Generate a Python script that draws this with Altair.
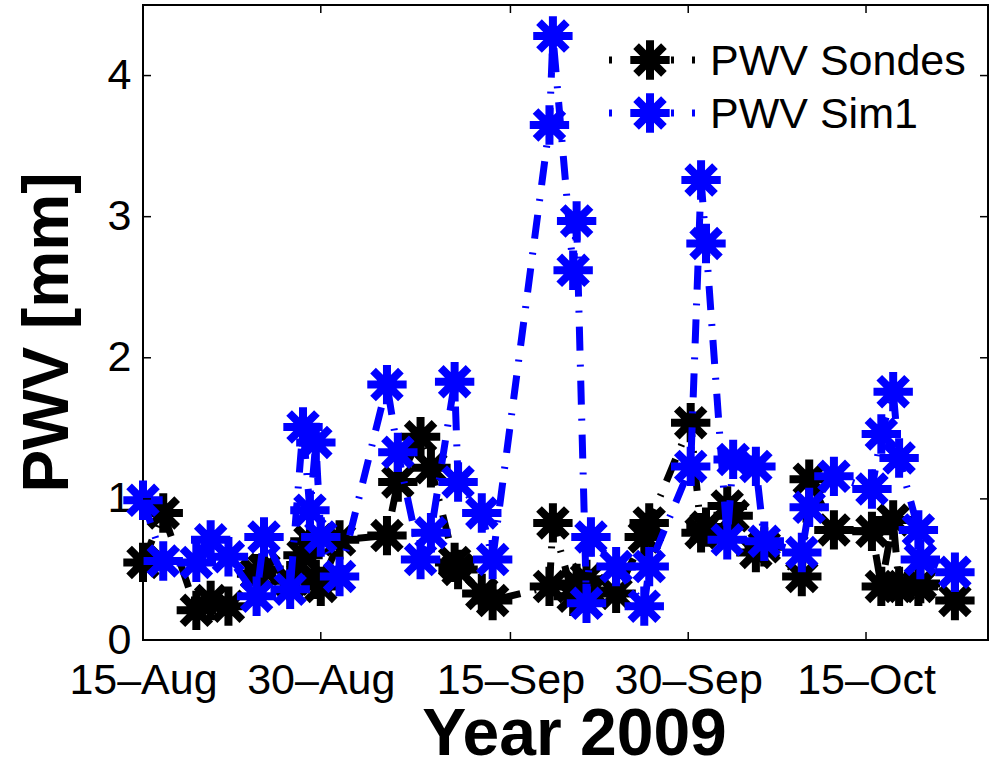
import altair as alt
import pandas as pd

# Radiosonde launch times (UTC) and precipitable water vapour [mm]
launch_times = [
    "2009-08-15 00:00", "2009-08-16 17:00", "2009-08-19 12:00", "2009-08-20 17:00",
    "2009-08-22 05:00", "2009-08-24 14:00", "2009-08-25 05:00", "2009-08-27 10:00",
    "2009-08-28 12:00", "2009-08-29 02:00", "2009-08-29 14:00", "2009-08-30 00:00",
    "2009-08-31 14:00", "2009-09-04 14:00", "2009-09-05 12:00", "2009-09-07 10:00",
    "2009-09-08 07:00", "2009-09-10 07:00", "2009-09-10 14:00", "2009-09-12 14:00",
    "2009-09-13 12:00", "2009-09-18 07:00", "2009-09-18 14:00", "2009-09-20 07:00",
    "2009-09-20 14:00", "2009-09-21 10:00", "2009-09-21 19:00", "2009-09-23 22:00",
    "2009-09-26 07:00", "2009-09-26 17:00", "2009-09-30 05:00", "2009-10-01 02:00",
    "2009-10-01 12:00", "2009-10-03 07:00", "2009-10-03 19:00", "2009-10-05 17:00",
    "2009-10-06 10:00", "2009-10-09 14:00", "2009-10-10 05:00", "2009-10-12 07:00",
    "2009-10-15 12:00", "2009-10-16 07:00", "2009-10-17 07:00", "2009-10-17 19:00",
    "2009-10-19 10:00", "2009-10-19 14:00", "2009-10-22 12:00",
]
pwv_sondes = [
    0.55, 0.90, 0.21, 0.28, 0.24, 0.47, 0.50, 0.42,
    0.60, 0.70, 0.43, 0.38, 0.71, 0.74, 1.12, 1.44,
    1.22, 0.55, 0.50, 0.33, 0.28, 0.38, 0.83, 0.31,
    0.40, 0.43, 0.35, 0.33, 0.73, 0.83, 1.54, 0.76,
    0.80, 0.95, 0.88, 0.62, 0.66, 0.45, 1.14, 0.78,
    0.77, 0.38, 0.85, 0.38, 0.38, 0.40, 0.28,
]
pwv_sim1 = [
    0.99, 0.56, 0.55, 0.71, 0.59, 0.31, 0.73, 0.36,
    1.51, 0.92, 1.40, 0.73, 0.45, 1.81, 1.33, 0.57,
    0.76, 1.83, 1.12, 0.90, 0.57, 3.65, 4.28, 2.62,
    2.97, 0.26, 0.73, 0.52, 0.24, 0.52, 1.23, 3.26,
    2.81, 0.71, 1.28, 1.23, 0.70, 0.62, 0.94, 1.16,
    1.07, 1.46, 1.76, 1.29, 0.78, 0.57, 0.48,
]

series_names = ["PWV Sondes", "PWV Sim1"]
series_colors = ["#000000", "#0000ff"]

x_domain = ["2009-08-15 00:00", "2009-10-25 07:00"]
x_tick_dates = ["2009-08-15", "2009-08-30", "2009-09-15", "2009-09-30", "2009-10-15"]
y_tick_values = [0, 1, 2, 3, 4]


def to_ms(values):
    idx = pd.to_datetime(values, utc=True)
    return [int((t - pd.Timestamp("1970-01-01", tz="UTC")) / pd.Timedelta(milliseconds=1)) for t in idx]


t_ms = to_ms(launch_times)
sondes = pd.DataFrame({"t": t_ms, "pwv": pwv_sondes, "series": series_names[0]})
sim1 = pd.DataFrame({"t": t_ms, "pwv": pwv_sim1, "series": series_names[1]})
xticks = pd.DataFrame({"t": to_ms(x_tick_dates)})
yticks = pd.DataFrame({"v": y_tick_values})

W, H = 845, 635
FONT = "Liberation Sans"
STAR = "M-1,0L1,0M0,-1L0,1M-0.7071,-0.7071L0.7071,0.7071M-0.7071,0.7071L0.7071,-0.7071"
DASHDOT = [24, 14, 2, 14]

color = alt.Color("series:N", scale=alt.Scale(domain=series_names, range=series_colors), legend=None)

x_enc = alt.X(
    "t:T",
    scale=alt.Scale(type="utc", domain=to_ms(x_domain)),
    axis=alt.Axis(
        values=to_ms(x_tick_dates),
        labelExpr="utcFormat(datum.value, '%d–%b')",
        title="Year 2009",
        titleFontSize=66,
        titleX=431,
        titleY=114,
        titleAnchor="middle",
        titleAlign="center",
        titleBaseline="alphabetic",
        labelPadding=19,
        labelFlush=False,
        labelOverlap=False,
    ),
)
y_enc = alt.Y(
    "pwv:Q",
    scale=alt.Scale(domain=[0, 4.5], nice=False, zero=True),
    axis=alt.Axis(
        values=y_tick_values,
        format="d",
        title="PWV [mm]",
        titleFontSize=64,
        titleAngle=270,
        titleX=-76,
        titleY=327,
        titleAlign="center",
        titleBaseline="alphabetic",
        labelPadding=12,
        labelFlush=False,
    ),
)


def series_layers(df):
    base = alt.Chart(df)
    line = base.mark_line(strokeWidth=7, strokeDash=DASHDOT, strokeCap="butt").encode(
        x=x_enc, y=y_enc, color=color
    )
    pts = base.mark_point(
        shape=STAR, filled=False, size=1550, strokeWidth=8, opacity=1, strokeCap="butt"
    ).encode(x=x_enc, y=y_enc, color=color)
    return [line, pts]


# inward tick marks on all four sides of the box
tick_x_bottom = alt.Chart(xticks).mark_rule(color="black", strokeWidth=1.5).encode(
    x=alt.X("t:T"), y=alt.value(H - 8), y2=alt.value(H)
)
tick_x_top = alt.Chart(xticks).mark_rule(color="black", strokeWidth=1.5).encode(
    x=alt.X("t:T"), y=alt.value(0), y2=alt.value(8)
)
tick_y_left = alt.Chart(yticks).mark_rule(color="black", strokeWidth=1.5).encode(
    y=alt.Y("v:Q"), x=alt.value(0), x2=alt.value(8)
)
tick_y_right = alt.Chart(yticks).mark_rule(color="black", strokeWidth=1.5).encode(
    y=alt.Y("v:Q"), x=alt.value(W - 8), x2=alt.value(W)
)

# legend entries (top right, no box)
legend_layers = []
for i, name in enumerate(series_names):
    ly = 55 + 53 * i
    entry = alt.Chart(pd.DataFrame({"series": [name]}))
    legend_layers.append(
        entry.mark_rule(strokeWidth=7, strokeDash=[3, 59, 3, 18, 3, 60], strokeCap="butt").encode(
            x=alt.value(466), x2=alt.value(552), y=alt.value(ly), color=color
        )
    )
    legend_layers.append(
        entry.mark_point(shape=STAR, filled=False, size=1550, strokeWidth=8, opacity=1).encode(
            x=alt.value(507), y=alt.value(ly), color=color
        )
    )
    legend_layers.append(
        entry.mark_text(align="left", baseline="middle", font=FONT, fontSize=43, color="black").encode(
            x=alt.value(567), y=alt.value(ly + 2), text="series:N"
        )
    )

chart = (
    alt.layer(
        *series_layers(sondes),
        *series_layers(sim1),
        tick_x_bottom, tick_x_top, tick_y_left, tick_y_right,
        *legend_layers,
    )
    .resolve_scale(color="shared")
    .properties(
        width=W,
        height=H,
        padding={"left": 143, "top": 5, "right": 1, "bottom": 129},
        autosize=alt.AutoSizeParams(type="none"),
        background="white",
    )
    .configure_view(stroke="black", strokeWidth=2)
    .configure_axis(
        domain=False,
        ticks=False,
        grid=False,
        labelFont=FONT,
        labelFontSize=43,
        labelColor="black",
        titleFont=FONT,
        titleFontWeight="bold",
        titleColor="black",
    )
)

chart.save("out.html", embed_options={"renderer": "svg", "actions": False})
